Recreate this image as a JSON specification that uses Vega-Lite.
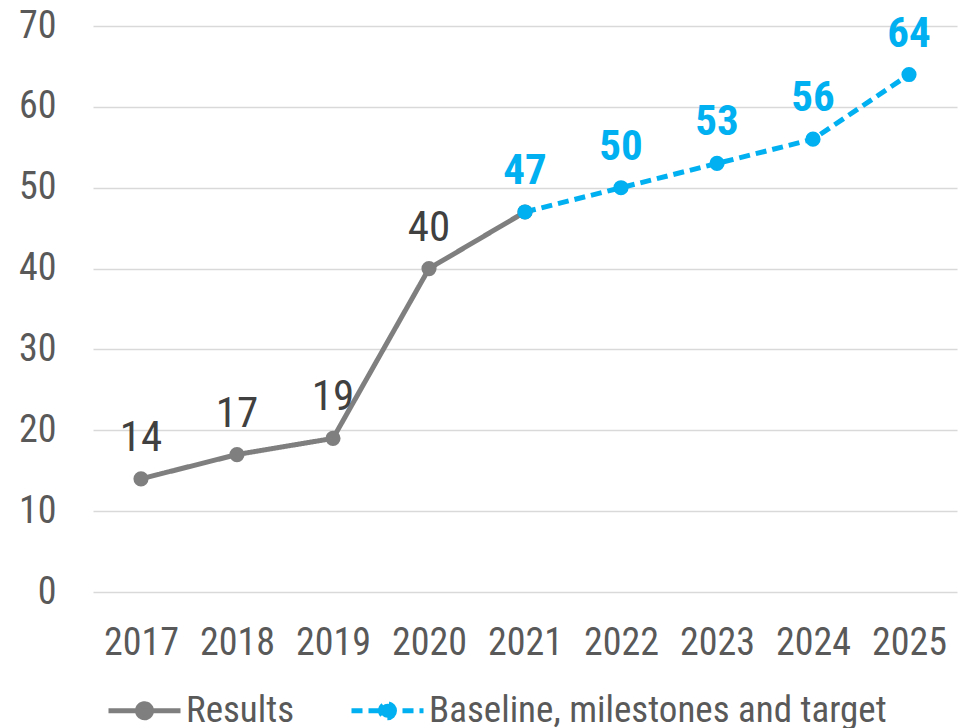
{
  "$schema": "https://vega.github.io/schema/vega-lite/v6.json",
  "autosize": {"type": "none"},
  "width": 864,
  "height": 566,
  "padding": {"left": 93, "top": 26, "right": 17, "bottom": 136},
  "background": "white",
  "config": {
    "view": {"stroke": null},
    "font": "Roboto Condensed, DejaVu Sans Condensed, Liberation Sans",
    "axis": {"labelFont": "Roboto Condensed, DejaVu Sans Condensed, Liberation Sans", "labelColor": "#595959", "labelFontSize": 38}
  },
  "data": {
    "values": [
      {"year": "2017", "value": 14, "series": "Results"},
      {"year": "2018", "value": 17, "series": "Results"},
      {"year": "2019", "value": 19, "series": "Results"},
      {"year": "2020", "value": 40, "series": "Results"},
      {"year": "2021", "value": 47, "series": "Results"},
      {"year": "2021", "value": 47, "series": "Baseline, milestones and target"},
      {"year": "2022", "value": 50, "series": "Baseline, milestones and target"},
      {"year": "2023", "value": 53, "series": "Baseline, milestones and target"},
      {"year": "2024", "value": 56, "series": "Baseline, milestones and target"},
      {"year": "2025", "value": 64, "series": "Baseline, milestones and target"}
    ]
  },
  "encoding": {
    "x": {
      "field": "year", "type": "ordinal",
      "scale": {"type": "point", "padding": 0.5},
      "axis": {"title": null, "domain": false, "ticks": false, "labelAngle": 0, "labelPadding": 32, "grid": false}
    },
    "y": {
      "field": "value", "type": "quantitative",
      "scale": {"domain": [0, 70], "nice": false},
      "axis": {"title": null, "domain": false, "ticks": false, "values": [0, 10, 20, 30, 40, 50, 60, 70], "labelPadding": 37, "gridColor": "#d9d9d9", "gridWidth": 1.5}
    }
  },
  "layer": [
    {
      "mark": {"type": "line", "strokeWidth": 5},
      "encoding": {
        "color": {
          "field": "series", "type": "nominal",
          "scale": {"domain": ["Results", "Baseline, milestones and target"], "range": ["#7f7f7f", "#00b0f0"]},
          "legend": {
            "title": null,
            "orient": "none",
            "direction": "horizontal",
            "legendX": 13,
            "legendY": 646,
            "symbolType": "M-1,0L1,0M0.194,0A0.194,0.194,0,1,1,-0.194,0A0.194,0.194,0,1,1,0.194,0Z",
            "symbolSize": 5184,
            "symbolStrokeWidth": 5,
            "labelFontSize": 37,
            "labelColor": "#595959",
            "labelFont": "Roboto Condensed, DejaVu Sans Condensed, Liberation Sans",
            "labelOffset": 3,
            "labelLimit": 800,
            "columnPadding": 46,
            "encode": {
              "symbols": {
                "update": {
                  "fill": {"scale": "color", "field": "value"},
                  "stroke": {"scale": "color", "field": "value"},
                  "strokeDash": {"signal": "datum.value === 'Results' ? [1, 0] : [11, 7]"},
                  "opacity": {"value": 1}
                }
              }
            }
          }
        },
        "strokeDash": {
          "field": "series", "type": "nominal",
          "scale": {"domain": ["Results", "Baseline, milestones and target"], "range": [[1, 0], [11, 6]]},
          "legend": null
        }
      }
    },
    {
      "transform": [{"filter": "datum.series === 'Results'"}],
      "mark": {"type": "point", "filled": true, "size": 230, "opacity": 1, "color": "#7f7f7f"}
    },
    {
      "transform": [{"filter": "datum.series !== 'Results'"}],
      "mark": {"type": "point", "filled": true, "size": 230, "opacity": 1, "color": "#00b0f0"}
    },
    {
      "transform": [{"filter": "datum.series === 'Results' && datum.year !== '2021'"}],
      "mark": {"type": "text", "dy": -28, "baseline": "alphabetic", "fontSize": 43, "color": "#404040", "font": "Roboto Condensed, DejaVu Sans Condensed, Liberation Sans"},
      "encoding": {"text": {"field": "value", "type": "quantitative"}}
    },
    {
      "transform": [{"filter": "datum.series !== 'Results'"}],
      "mark": {"type": "text", "dy": -28, "baseline": "alphabetic", "fontSize": 43, "fontWeight": "bold", "color": "#00b0f0", "font": "Roboto Condensed, DejaVu Sans Condensed, Liberation Sans"},
      "encoding": {"text": {"field": "value", "type": "quantitative"}}
    }
  ]
}
